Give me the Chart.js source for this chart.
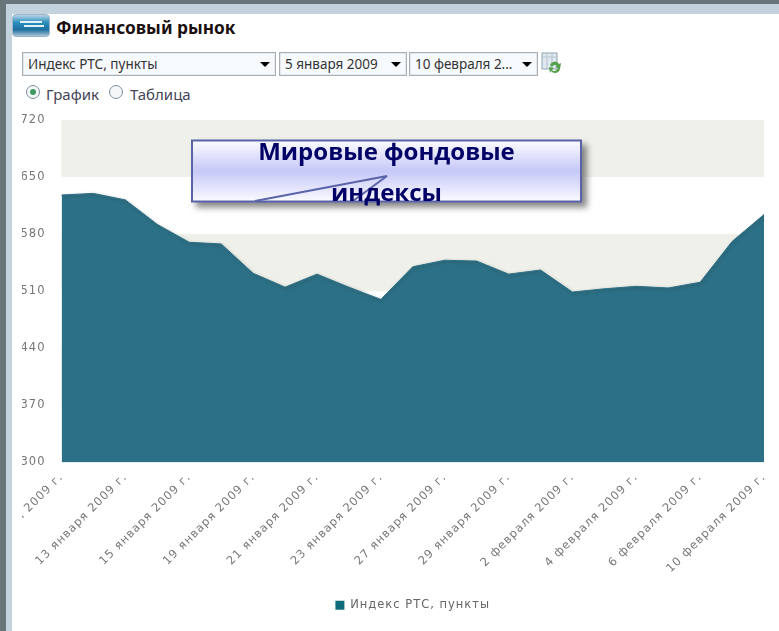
<!DOCTYPE html>
<html lang="ru"><head><meta charset="utf-8">
<script src="https://cdn.jsdelivr.net/npm/chart.js@4/dist/chart.umd.min.js"></script>
<style>
html,body{margin:0;padding:0;background:#fff;overflow:hidden}
#page{position:relative;width:779px;height:631px;overflow:hidden;background:#fff;font-family:"Open Sans",Tahoma,sans-serif;filter:blur(.35px)}
.abs{position:absolute}
.sel{position:absolute;top:52px;height:22px;border:1px solid #a9b0b5;box-shadow:inset 0 0 0 1px #e4e8ec;background:#f7fafd;font:13.5px/23px "Noto Sans",sans-serif;color:#333;padding-left:5px;box-sizing:content-box;white-space:nowrap}
.sel i{position:absolute;right:5px;top:9px;border-left:5px solid transparent;border-right:5px solid transparent;border-top:5px solid #000}
.radio{position:absolute;top:85px;width:14px;height:14px;border-radius:50%;border:1px solid #7d8f9c;background:#f4f6f8;box-sizing:border-box}
.lab{position:absolute;top:84px;font:15px/20px "Noto Sans",sans-serif;color:#445}
</style></head><body>
<div id="page">
  <div class="abs" style="left:0;top:0;width:779px;height:4px;background:#68767a"></div>
  <div class="abs" style="left:0;top:0;width:6px;height:631px;background:#68767a"></div>
  <div class="abs" style="left:6px;top:4px;width:773px;height:10px;background:#c3d3dd"></div>
  <div class="abs" style="left:6px;top:4px;width:6px;height:627px;background:#c3d3dd"></div>
  <div class="abs" style="left:12px;top:14px;width:38px;height:23px;border-radius:4px;background:linear-gradient(#b9d4e8,#2c8fbd 35%,#1d6f9e 70%,#a9c4d8);border:1px solid #9fb4c4;box-sizing:border-box"></div>
  <div class="abs" style="left:20px;top:21px;width:22px;height:2px;background:#dff2fb"></div>
  <div class="abs" style="left:24px;top:25px;width:20px;height:2px;background:#dff2fb"></div>
  <div class="abs" style="left:56px;top:17px;font:bold 17.3px/22px 'Noto Sans',sans-serif;color:#1a1010">Финансовый рынок</div>

  <div class="sel" style="left:22px;width:247px">Индекс РТС, пункты<i></i></div>
  <div class="sel" style="left:279px;width:121px">5 января 2009<i></i></div>
  <div class="sel" style="left:409px;width:122px">10 февраля 2...<i></i></div>
  <svg class="abs" style="left:541px;top:52px" width="22" height="24" viewBox="0 0 22 24">
    <rect x="1" y="1" width="15" height="16" fill="#dfe9ef" stroke="#8fa5b2"/><path d="M1 5H16M6 1V17M11 1V17" stroke="#b3c4ce"/>
    <path d="M9 13a5 5 0 0 1 9-1l2-1-1 6-5-2 2-1a3 3 0 0 0-5 1zM19 16a5 5 0 0 1-9 3l-1 2-1-6 5 1-2 2a3 3 0 0 0 5-1z" fill="#55a04c"/>
  </svg>

  <div class="radio" style="left:26px"><div class="abs" style="left:3px;top:3px;width:6px;height:6px;border-radius:50%;background:#3f9a63"></div></div>
  <div class="lab" style="left:46px">График</div>
  <div class="radio" style="left:109px"></div>
  <div class="lab" style="left:130px">Таблица</div>

  <div class="abs" style="left:22px;top:100px;width:757px;height:525px"><canvas id="c" width="757" height="525"></canvas></div>

  <svg class="abs" style="left:185px;top:132px" width="410" height="85" viewBox="185 132 410 85">
    <defs>
      <linearGradient id="g" x1="0" y1="0" x2="0" y2="1"><stop offset="0" stop-color="#fbfbff"/><stop offset=".5" stop-color="#c6c8f8"/><stop offset="1" stop-color="#fbfbff"/></linearGradient>
      <filter id="s" x="-5%" y="-20%" width="110%" height="150%"><feDropShadow dx="5" dy="5" stdDeviation="3" flood-color="#555" flood-opacity=".7"/></filter>
    </defs>
    <rect x="192" y="140.500" width="389" height="61" fill="url(#g)" stroke="#5a64a8" stroke-width="2" filter="url(#s)"/>
    <path d="M255 201L387 176L353 201" fill="none" stroke="#5a64a8" stroke-width="2"/>
  </svg>
  <div class="abs" style="left:192px;top:130px;width:389px;text-align:center;font:bold 24px/41px 'Open Sans',sans-serif;color:#000066;text-shadow:none">Мировые фондовые<br>индексы</div>
</div>
<script>
const categories = ["11 января 2009 г.","12 января 2009 г.","13 января 2009 г.","14 января 2009 г.","15 января 2009 г.","16 января 2009 г.","19 января 2009 г.","20 января 2009 г.","21 января 2009 г.","22 января 2009 г.","23 января 2009 г.","26 января 2009 г.","27 января 2009 г.","28 января 2009 г.","29 января 2009 г.","30 января 2009 г.","2 февраля 2009 г.","3 февраля 2009 г.","4 февраля 2009 г.","5 февраля 2009 г.","6 февраля 2009 г.","9 февраля 2009 г.","10 февраля 2009 г."];
const rtsValues = [628,630,622,592,570,568,532,515,531,515,500,540,548,547,531,536,509,513,516,514,521,571,604];
const seriesName = "Индекс РТС, пункты";
const yTicks = [300,370,440,510,580,650,720];

const bands = {
  id:'bands',
  beforeLayout(chart){ chart.ctx.letterSpacing='1px'; },
  beforeDraw(chart){ chart.ctx.letterSpacing='1px'; },
  beforeDatasetsDraw(chart){
    const {ctx,chartArea:a,scales:{y}} = chart;
    ctx.save(); ctx.fillStyle='#f0f0ea';
    for(let i=yTicks.length-1;i>0;i-=2){
      const t=y.getPixelForValue(yTicks[i]), b=y.getPixelForValue(yTicks[i-1]);
      ctx.fillRect(a.left,t,a.right-a.left,b-t);
    }
    ctx.restore();
  },
  beforeDatasetDraw(chart){
    const c=chart.ctx; c.save();
    c.shadowColor='rgba(60,60,60,.55)'; c.shadowBlur=3; c.shadowOffsetX=1; c.shadowOffsetY=1;
  },
  afterDatasetDraw(chart){ chart.ctx.restore(); }
};
const font={family:'"DejaVu Sans"',size:11.5};
new Chart(document.getElementById('c'),{
  type:'line',
  data:{labels:categories,datasets:[{label:seriesName,data:rtsValues,fill:'origin',backgroundColor:'#2b7086',borderColor:'#2b7086',borderWidth:1,pointRadius:0,tension:0}]},
  plugins:[bands],
  options:{
    responsive:false,animation:false,devicePixelRatio:1,
    layout:{autoPadding:false,padding:{left:0,right:15,top:20,bottom:4}},
    plugins:{
      tooltip:{enabled:false},
      legend:{position:'bottom',fullSize:false,labels:{color:'#666',font:font,boxWidth:9,boxHeight:9,padding:6,
        generateLabels:()=>[{text:seriesName,fillStyle:'#0f6a7c',strokeStyle:'#0f6a7c',lineWidth:0,fontColor:'#666'}]}}
    },
    scales:{
      x:{offset:false,grid:{display:false},border:{display:false},
        afterFit(s){s.height=131;s.paddingLeft=0;s.paddingRight=0;},
        ticks:{color:'#777',font:font,autoSkip:false,maxRotation:45,minRotation:45,padding:0,
          callback(v,i){return i%2===0?categories[i]:'';}}},
      y:{min:300,max:720,grid:{display:false},border:{display:false},
        afterFit(s){s.width=39.5;},
        afterBuildTicks(s){s.ticks=yTicks.map(v=>({value:v}));},
        ticks:{color:'#777',font:font,padding:8}}
    }
  }
});
</script>
</body></html>
